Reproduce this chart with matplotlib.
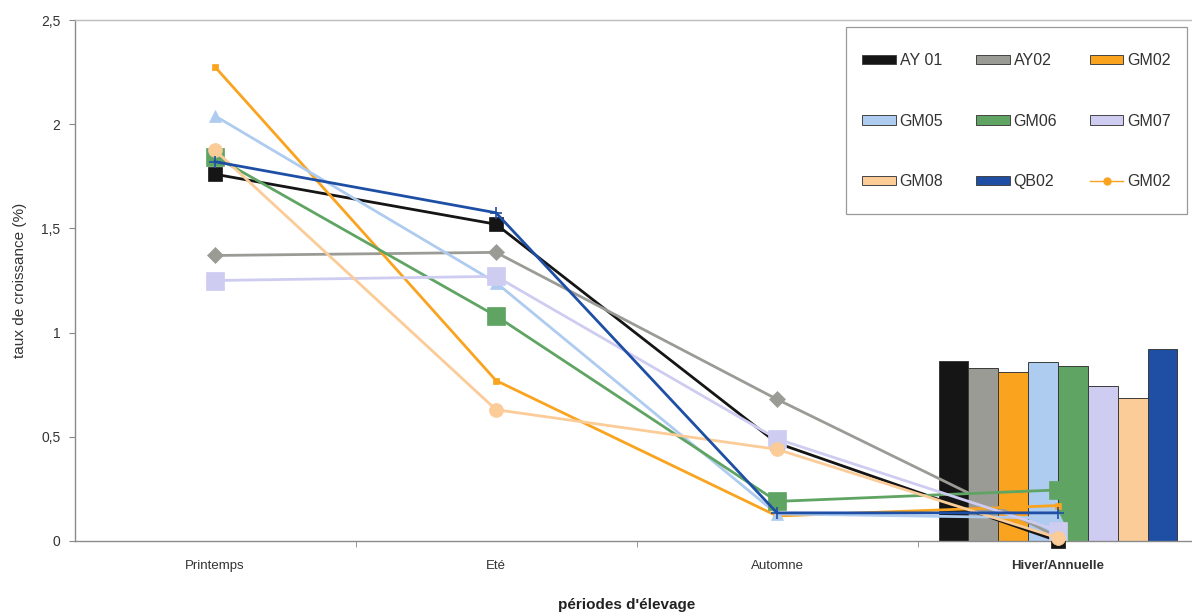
import matplotlib
matplotlib.use("Agg")
import matplotlib.pyplot as plt
from matplotlib.patches import Patch, Rectangle
from matplotlib.lines import Line2D
import numpy as np

plt.rcParams['font.family'] = ['Liberation Sans', 'DejaVu Sans']

categories = ["Printemps", "Eté", "Automne", "Hiver/Annuelle"]
series = ["AY 01", "AY02", "GM02", "GM05", "GM06", "GM07", "GM08", "QB02"]

# seasonal growth rates (lines) for Printemps, Eté, Automne, Hiver
ay01 = [1.76, 1.52, 0.47, 0.0]
ay02 = [1.37, 1.385, 0.68, 0.02]
gm02 = [2.275, 0.77, 0.12, 0.17]
gm05 = [2.04, 1.24, 0.13, 0.11]
gm06 = [1.845, 1.08, 0.19, 0.245]
gm07 = [1.25, 1.27, 0.49, 0.05]
gm08 = [1.875, 0.63, 0.44, 0.015]
qb02 = [1.82, 1.575, 0.135, 0.135]

# annual growth rates (bars)
annual = [0.865, 0.83, 0.81, 0.86, 0.84, 0.745, 0.685, 0.92]

colors = ['#151515', '#9b9b96', '#f9a31f', '#aecbf0', '#5fa463', '#cfccf2', '#fbcb98', '#1e4fa5']
markers = ['s', 'D', 's', '^', 's', 's', 'o', '+']
msizes = [10.5, 8, 5, 9, 13, 13, 10, 9]

yticks = [0, 0.5, 1, 1.5, 2, 2.5]
ytick_labels = ["0", "0,5", "1", "1,5", "2", "2,5"]

W, H = 1192, 616
fig = plt.figure(figsize=(W / 100, H / 100), dpi=100)
ax = fig.add_axes([74.5 / W, 75 / H, 1124 / W, 521 / H])

x = np.arange(len(categories))
line_data = [ay01, ay02, gm02, gm05, gm06, gm07, gm08, qb02]

# bars in the last category
bw = 0.85 / len(series)
start = x[3] - 0.425 + bw / 2
for i, v in enumerate(annual):
    ax.bar(start + i * bw, v, width=bw, color=colors[i], edgecolor='#3a3a3a',
           linewidth=0.7, zorder=2)

for i, vals in enumerate(line_data):
    ax.plot(x, vals, color=colors[i], lw=2, marker=markers[i], ms=msizes[i],
            mec=colors[i], mfc=colors[i], mew=1.2 if markers[i] == '+' else 0.5,
            zorder=3 + i * 0.1, clip_on=False)

ax.set_xlim(-0.5, 3.5)
ax.set_ylim(0, 2.5)
ax.set_yticks(yticks)
ax.set_yticklabels(ytick_labels, fontsize=10, color='#333333')
ax.set_xticks(x)
ax.set_xticklabels(categories, fontsize=9.5, color='#333333')
ax.get_xticklabels()[3].set_fontweight('bold')
ax.tick_params(axis='x', length=0, pad=14)
ax.set_xticks([0.5, 1.5, 2.5], minor=True)
ax.tick_params(axis='x', which='minor', length=4, color='#888888')
ax.tick_params(axis='y', length=4, color='#888888', pad=6)

for s in ['left', 'bottom', 'top']:
    ax.spines[s].set_color('#8a8a8a')
    ax.spines[s].set_linewidth(1)
ax.spines['top'].set_color('#bbbbbb')
ax.spines['right'].set_visible(False)

ax.set_ylabel("taux de croissance (%)", fontsize=11, color='#333333', labelpad=10)
fig.text(627 / W, 1 - 605 / H, "périodes d'élevage", fontsize=11, fontweight='bold',
         color='#222222', ha='center', va='center')

# legend frame
frame = Rectangle((846 / W, 1 - 214 / H), 341 / W, 187 / H, transform=fig.transFigure,
                  facecolor='white', edgecolor='#999999', linewidth=0.9, zorder=4.9)
ax.add_artist(frame)
frame.set_clip_on(False)

handles = [Patch(facecolor=c, edgecolor='#444444', linewidth=0.7) for c in colors]
handles.append(Line2D([0], [0], color='#f9a31f', lw=1, marker='o', ms=5))
labels = series + ["GM02"]
order_rows = [handles[0:3], handles[3:6], handles[6:9]]
lab_rows = [labels[0:3], labels[3:6], labels[6:9]]
h_cm = [order_rows[r][c] for c in range(3) for r in range(3)]
l_cm = [lab_rows[r][c] for c in range(3) for r in range(3)]
leg = ax.legend(h_cm, l_cm, ncol=3, loc='upper left',
                bbox_to_anchor=(862 / W, 1 - 53 / H), bbox_transform=fig.transFigure,
                fontsize=11.5, frameon=False,
                handlelength=2.1, handleheight=0.55, handletextpad=0.25,
                labelspacing=2.85, columnspacing=2.05, borderpad=0, borderaxespad=0)
leg.set_zorder(5)
for t in leg.get_texts():
    t.set_color('#333333')

fig.savefig("out.png", dpi=100, facecolor='white')
